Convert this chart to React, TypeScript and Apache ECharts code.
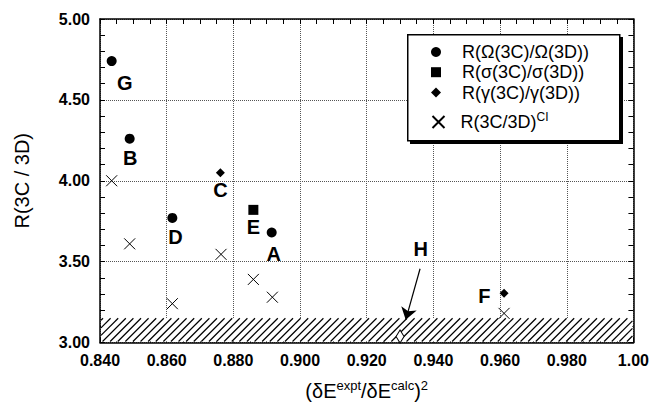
import React, { useEffect, useRef } from "react";
import * as echarts from "echarts";

const FONT = "'Liberation Sans', Arial, Helvetica, sans-serif";

// Series values
const omegaName = "R(Ω(3C)/Ω(3D))";
const sigmaName = "R(σ(3C)/σ(3D))";
const gammaName = "R(γ(3C)/γ(3D))";
const ciName = "R(3C/3D)CI";

const omegaX = [0.8435, 0.8489, 0.8617, 0.8915]; // G, B, D, A
const omegaY = [4.74, 4.26, 3.77, 3.68];
const sigmaX = [0.886]; // E
const sigmaY = [3.82];
const gammaX = [0.8761, 0.9612]; // C, F
const gammaY = [4.05, 3.305];
const ciX = [0.8435, 0.8489, 0.8617, 0.8763, 0.886, 0.8917, 0.9612];
const ciY = [4.0, 3.61, 3.24, 3.545, 3.39, 3.28, 3.18];
const hX = [0.93];
const hY = [3.037];

// Point labels
const labelNames = ["G", "B", "C", "D", "E", "A", "F", "H"];
const labelX = [0.8474, 0.8491, 0.8761, 0.8626, 0.886, 0.8921, 0.9553, 0.9362];
const labelY = [4.604, 4.139, 3.941, 3.652, 3.714, 3.545, 3.285, 3.576];

// Arrow to H
const arrowFrom = [0.936, 3.456];
const arrowTo = [0.9317, 3.14];

// Hatched excluded band
const hatchX = [0.84, 1.0];
const hatchY = [3.0, 3.15];

// Tick labels
const xTickLabels = ["0.840", "0.860", "0.880", "0.900", "0.920", "0.940", "0.960", "0.980", "1.00"];
const yTickLabels = ["3.00", "3.50", "4.00", "4.50", "5.00"];

const zip = (xs: number[], ys: number[]) => xs.map((x, i) => [x, ys[i]]);

const crossPath = "path://M0,0L10,10M10,0L0,10";

export default function App() {
  const ref = useRef<HTMLDivElement>(null);
  useEffect(() => {
    document.body.style.margin = "0";
    const chart = echarts.init(ref.current!, null, { renderer: "svg" });
    const xBase = {
      type: "value",
      min: 0.84,
      max: 1.0,
      interval: 0.02,
      axisLine: { show: true, lineStyle: { color: "#000", width: 1.5 } },
      axisTick: { show: true, inside: true, length: 5, lineStyle: { color: "#000", width: 1 } },
      minorTick: { show: true, splitNumber: 4, length: 5, lineStyle: { color: "#000", width: 1 } },
    };
    const yBase = {
      type: "value",
      min: 3.0,
      max: 5.0,
      interval: 0.5,
      axisLine: { show: true, lineStyle: { color: "#000", width: 1.5 } },
      axisTick: { show: true, inside: true, length: 5, lineStyle: { color: "#000", width: 1 } },
      minorTick: { show: true, splitNumber: 5, length: 5, lineStyle: { color: "#000", width: 1 } },
    };
    const legendItem = (name: string, centerY: number, size: number, textLeft: number, extra: any = {}) => ({
      data: [name],
      orient: "vertical",
      left: 436 - size / 2,
      top: centerY - 9,
      z: 20,
      padding: 0,
      itemWidth: size,
      itemHeight: size,
      selectedMode: false,
      textStyle: {
        fontSize: 18,
        lineHeight: 18,
        color: "#000",
        fontFamily: FONT,
        padding: [0, 0, 0, textLeft - (436 + size / 2) - 5],
        ...(extra.rich ? { rich: extra.rich } : {}),
      },
      ...(extra.formatter ? { formatter: extra.formatter } : {}),
    });
    const option: any = {
      animation: false,
      backgroundColor: "#fff",
      textStyle: { fontFamily: FONT },
      grid: { left: 100, right: 16, top: 19, bottom: 65.5, containLabel: false },
      xAxis: [
        {
          ...xBase,
          position: "bottom",
          axisLabel: {
            show: true,
            margin: 10,
            fontSize: 16,
            fontWeight: "bold",
            color: "#000",
            fontFamily: FONT,
            formatter: (_v: number, i: number) => xTickLabels[i],
          },
          splitLine: { show: true, lineStyle: { color: "#555", type: "dotted", width: 1 } },
          name: "(δE{s|expt}/δE{s|calc}){s|2}",
          nameLocation: "middle",
          nameGap: 36,
          nameTextStyle: {
            fontSize: 20,
            color: "#000",
            fontFamily: FONT,
            rich: { s: { fontSize: 13, padding: [0, 0, 11, 0], color: "#000", fontFamily: FONT } },
          },
        },
        {
          ...xBase,
          position: "top",
          axisLabel: { show: false },
          splitLine: { show: false },
        },
      ],
      yAxis: [
        {
          ...yBase,
          position: "left",
          axisLabel: {
            show: true,
            margin: 10,
            fontSize: 16,
            fontWeight: "bold",
            color: "#000",
            fontFamily: FONT,
            formatter: (_v: number, i: number) => yTickLabels[i],
          },
          splitLine: { show: true, lineStyle: { color: "#555", type: "dotted", width: 1 } },
          name: "R(3C / 3D)",
          nameLocation: "middle",
          nameGap: 68,
          nameTextStyle: { fontSize: 20, color: "#000", fontFamily: FONT },
        },
        {
          ...yBase,
          position: "right",
          axisLabel: { show: false },
          splitLine: { show: false },
        },
      ],
      legend: [
        legendItem(omegaName, 52, 10, 462),
        legendItem(sigmaName, 72.2, 10, 462),
        legendItem(gammaName, 92.5, 10, 462),
        legendItem(ciName, 120, 12, 458, {
          formatter: () => "R(3C/3D){s|CI}",
          rich: { s: { fontSize: 12, padding: [0, 0, 10, 0], color: "#000", fontFamily: FONT } },
        }),
      ],
      graphic: [
        { type: "rect", left: 410, top: 37, shape: { width: 213, height: 107 }, style: { fill: "#000" }, z: 5 },
        {
          type: "rect",
          left: 407,
          top: 34,
          shape: { width: 212, height: 106 },
          style: { fill: "#fff", stroke: "#000", lineWidth: 1.5 },
          z: 6,
        },
      ],
      series: [
        {
          type: "custom",
          name: "hatch",
          silent: true,
          data: [[hatchX[0], hatchX[1], hatchY[0], hatchY[1]]],
          encode: { x: [0, 1], y: [2, 3] },
          renderItem: (_params: any, api: any) => {
            const p0 = api.coord([api.value(0), api.value(2)]);
            const p1 = api.coord([api.value(1), api.value(3)]);
            const x0 = p0[0] + 1;
            const x1 = p1[0] - 1;
            const y0 = p1[1];
            const y1 = p0[1] - 1;
            const children: any[] = [
              { type: "rect", shape: { x: x0, y: y0, width: x1 - x0, height: y1 - y0 }, style: { fill: "#fff" } },
            ];
            const step = 7.6;
            for (let c = x0 + y0 + 2; c <= x1 + y1; c += step) {
              const xa = Math.max(x0, c - y1);
              const xb = Math.min(x1, c - y0);
              if (xb > xa) {
                children.push({
                  type: "line",
                  shape: { x1: xa, y1: c - xa, x2: xb, y2: c - xb },
                  style: { stroke: "#000", lineWidth: 1.2 },
                });
              }
            }
            return { type: "group", children };
          },
        },
        {
          type: "scatter",
          name: omegaName,
          data: zip(omegaX, omegaY),
          symbol: "circle",
          symbolSize: 10,
          itemStyle: { color: "#000", opacity: 1 },
        },
        {
          type: "scatter",
          name: sigmaName,
          data: zip(sigmaX, sigmaY),
          symbol: "rect",
          symbolSize: 10,
          itemStyle: { color: "#000", opacity: 1 },
        },
        {
          type: "scatter",
          name: gammaName,
          data: zip(gammaX, gammaY),
          symbol: "diamond",
          symbolSize: 9,
          itemStyle: { color: "#000", opacity: 1 },
        },
        {
          type: "scatter",
          name: ciName,
          data: zip(ciX, ciY),
          symbol: crossPath,
          symbolSize: 11,
          itemStyle: { color: "none", borderColor: "#000", borderWidth: 1, opacity: 1 },
        },
        {
          type: "scatter",
          name: "H",
          data: zip(hX, hY),
          symbol: "diamond",
          symbolSize: [8, 13],
          itemStyle: { color: "#fff", borderColor: "#000", borderWidth: 1, opacity: 1 },
          markLine: {
            silent: true,
            symbol: ["none", "arrow"],
            symbolSize: 12,
            label: { show: false },
            lineStyle: { color: "#000", width: 1.2, type: "solid", opacity: 1 },
            itemStyle: { color: "#000", opacity: 1 },
            data: [[{ coord: arrowFrom }, { coord: arrowTo }]],
          },
        },
        {
          type: "scatter",
          name: "labels",
          silent: true,
          data: labelX.map((x, i) => ({ value: [x, labelY[i]], name: labelNames[i] })),
          symbolSize: 0,
          itemStyle: { color: "#000", opacity: 1 },
          label: {
            show: true,
            position: "inside",
            formatter: (p: any) => p.name,
            fontSize: 20,
            fontWeight: "bold",
            color: "#000",
            opacity: 1,
            fontFamily: FONT,
          },
        },
      ],
    };
    chart.setOption(option);
    return () => chart.dispose();
  }, []);
  return <div ref={ref} style={{ width: 652, height: 408 }} />;
}
